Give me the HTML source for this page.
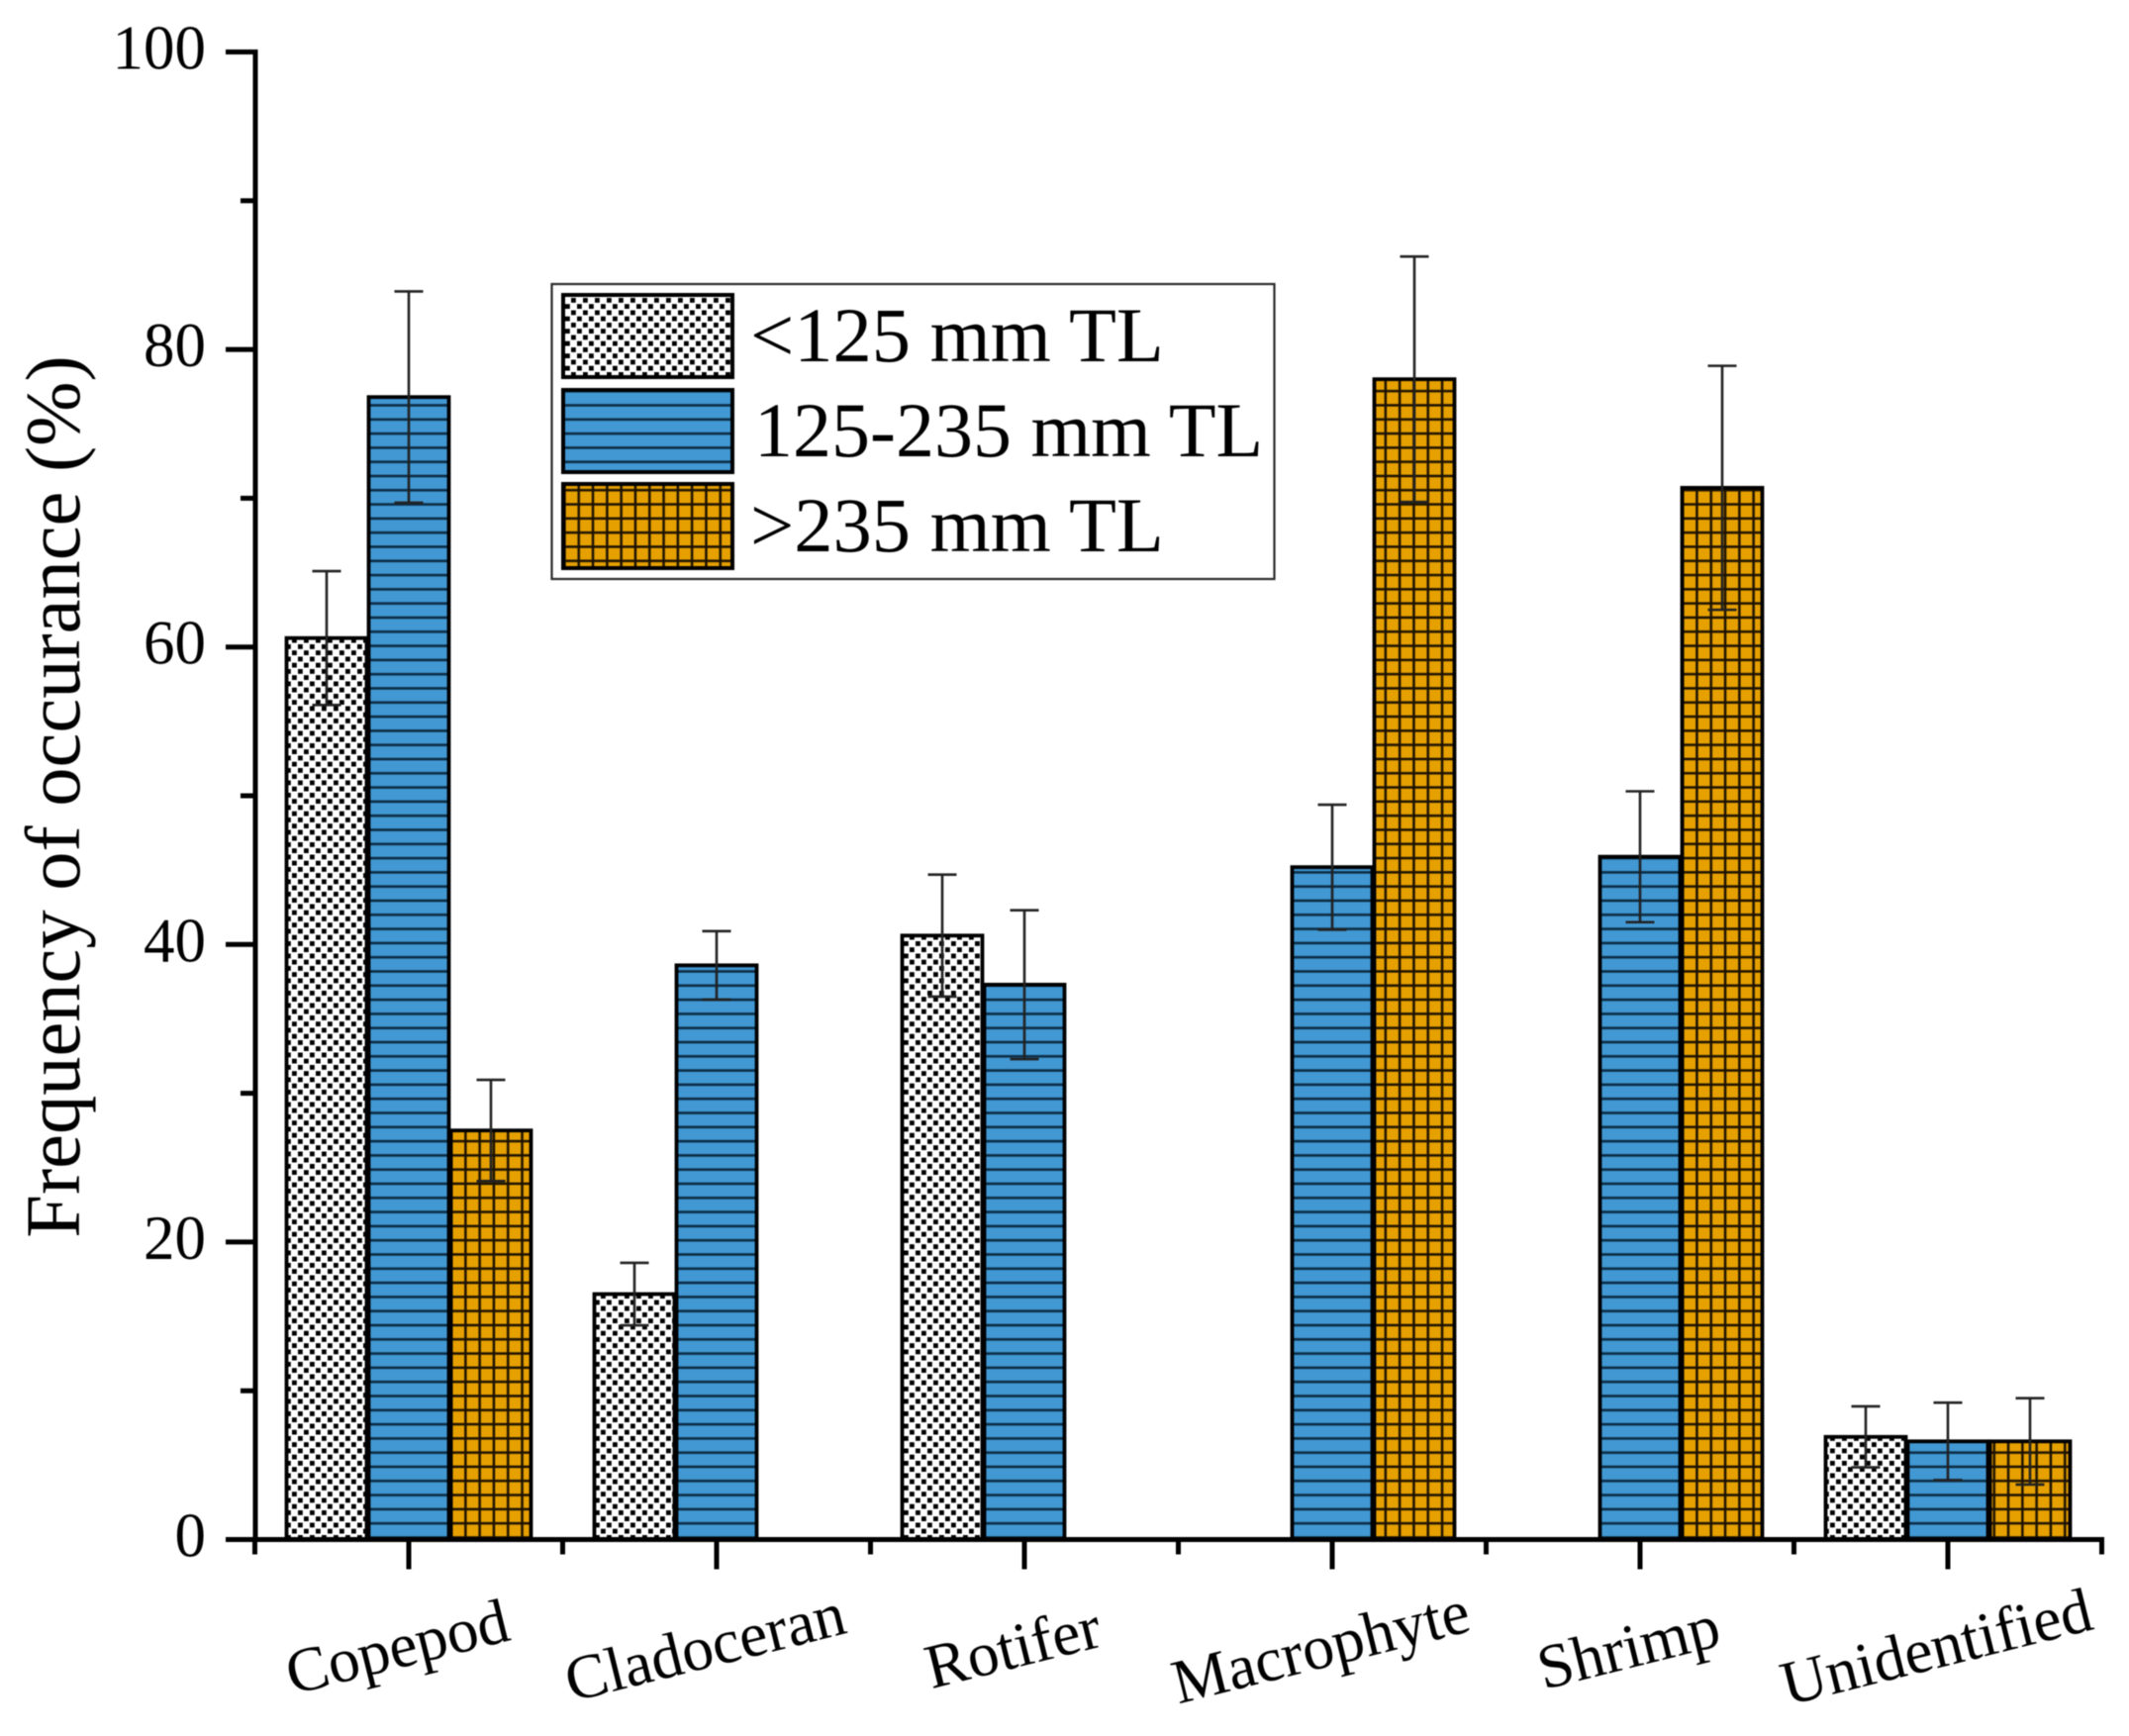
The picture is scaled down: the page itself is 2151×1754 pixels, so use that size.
<!DOCTYPE html>
<html lang="en">
<head>
<meta charset="utf-8">
<title>Frequency of occurance by size class</title>
<style>
  html, body { margin: 0; padding: 0; background: #fff; }
  svg { display: block; filter: blur(0.6px); }
  text { font-family: "Liberation Serif", "Times New Roman", serif; fill: #000; }
</style>
</head>
<body>
<svg id="chart" xmlns="http://www.w3.org/2000/svg" width="2151" height="1754" viewBox="0 0 2151 1754">
  <defs>
    <pattern id="pat-dots" patternUnits="userSpaceOnUse" width="12" height="12.5">
      <rect width="12" height="12.5" fill="#ffffff"/>
      <rect x="1" y="1" width="4.8" height="4.8" fill="#000"/>
      <rect x="7" y="7.2" width="4.8" height="4.8" fill="#000"/>
    </pattern>
    <pattern id="pat-hatch" patternUnits="userSpaceOnUse" width="14.3" height="14.3" y="1555">
      <rect width="14.3" height="14.3" fill="#4198d3"/>
      <rect x="0" y="11.5" width="14.3" height="2.6" fill="#0c2c44"/>
    </pattern>
    <pattern id="pat-grid" patternUnits="userSpaceOnUse" width="14.3" height="14.3" y="1555">
      <rect width="14.3" height="14.3" fill="#e6a000"/>
      <rect x="0" y="11.5" width="14.3" height="2.5" fill="#1c1200"/>
      <rect x="11.5" y="0" width="2.5" height="14.3" fill="#1c1200"/>
    </pattern>
  </defs>

  <rect x="0" y="0" width="2151" height="1754" fill="#ffffff"/>
  <g id="bars"></g>
  <g id="errors"></g>
  <g id="axes"></g>

  <text transform="translate(80,805) rotate(-90)" text-anchor="middle" font-size="78.5">Frequency of occurance (%)</text>

  <g>
    <rect x="557.5" y="287" width="730" height="298" fill="#ffffff" stroke="#2a2a2a" stroke-width="2.2"/>
    <rect x="569" y="298" width="171" height="83" fill="url(#pat-dots)" stroke="#000" stroke-width="4"/>
    <rect x="569" y="394" width="171" height="83" fill="url(#pat-hatch)" stroke="#000" stroke-width="4"/>
    <rect x="569" y="489" width="171" height="85" fill="url(#pat-grid)" stroke="#000" stroke-width="4"/>
    <text x="758" y="365" font-size="78.5">&lt;125 mm TL</text>
    <text x="762" y="461" font-size="78">125-235 mm TL</text>
    <text x="758" y="557" font-size="78.5">&gt;235 mm TL</text>
  </g>
</svg>

<script>
const categories = ["Copepod", "Cladoceran", "Rotifer", "Macrophyte", "Shrimp", "Unidentified"];
const seriesSmall = [60.6, 16.5, 40.6, null, null, 6.9];
const seriesMedium = [76.8, 38.6, 37.3, 45.2, 45.9, 6.6];
const seriesLarge = [27.5, null, null, 78.0, 70.7, 6.6];
const errorsSmall = [4.5, 2.1, 4.1, null, null, 2.05];
const errorsMedium = [7.1, 2.3, 5.0, 4.2, 4.4, 2.6];
const errorsLarge = [3.4, null, null, 8.25, 8.2, 2.9];
const yMajorTicks = [0, 20, 40, 60, 80, 100];
const yMinorTicks = [10, 30, 50, 70, 90];

const NS = "http://www.w3.org/2000/svg";
const Y0 = 1555.5, PX_PER_UNIT = 15.03, X0 = 413, CAT_STEP = 311, BAR_W = 83;
function yScale(v) { return Y0 - v * PX_PER_UNIT; }
function xScale(i) { return X0 + i * CAT_STEP; }
function barLeft(i, s) { return xScale(i) + (s - 1.5) * BAR_W; }
function make(tag, attrs, parent) {
  const el = document.createElementNS(NS, tag);
  for (const k in attrs) el.setAttribute(k, attrs[k]);
  parent.appendChild(el);
  return el;
}

const barsG = document.getElementById("bars");
const errG = document.getElementById("errors");
const axesG = document.getElementById("axes");
const allSeries = [seriesSmall, seriesMedium, seriesLarge];
const allErrors = [errorsSmall, errorsMedium, errorsLarge];
const fills = ["url(#pat-dots)", "url(#pat-hatch)", "url(#pat-grid)"];
const seriesKeys = ["small", "medium", "large"];

allSeries.forEach(function (series, s) {
  series.forEach(function (v, i) {
    if (v === null) return;
    const bar = make("rect", {
      x: barLeft(i, s) + 1,
      y: yScale(v),
      width: BAR_W - 2,
      height: Y0 - yScale(v),
      fill: fills[s],
      stroke: "#000",
      "stroke-width": 3.8
    }, barsG);
    
    
    bar.setAttribute('data-series', seriesKeys[s]);

    const e = allErrors[s][i];
    const cx = barLeft(i, s) + BAR_W / 2;
    const stem = make("line", {
      x1: cx, x2: cx, y1: yScale(v + e), y2: yScale(v - e),
      stroke: "#222", "stroke-width": 2.6
    }, errG);
    
    
    [v + e, v - e].forEach(function (end) {
      const cap = make("line", {
        x1: cx - 14.5, x2: cx + 14.5, y1: yScale(end), y2: yScale(end),
        stroke: "#222", "stroke-width": 2.6
      }, errG);
      
      
    });
  });
});

/* axes */
const yAxisLine = make("line", { x1: 258, x2: 258, y1: yScale(100) - 2.5, y2: Y0, stroke: "#000", "stroke-width": 5 }, axesG);


const xAxisLine = make("line", { x1: 228, x2: xScale(categories.length - 1) + CAT_STEP / 2 + 2.5, y1: Y0, y2: Y0, stroke: "#000", "stroke-width": 5 }, axesG);



yMajorTicks.forEach(function (t) {
  const tick = make("line", { x1: 228, x2: 258, y1: yScale(t), y2: yScale(t), stroke: "#000", "stroke-width": 5 }, axesG);
  
  
  const label = make("text", { x: 208, y: yScale(t) + 17, "text-anchor": "end", "font-size": 63 }, axesG);
  
  
  label.textContent = String(t);
});
yMinorTicks.forEach(function (t) {
  const tick = make("line", { x1: 243, x2: 258, y1: yScale(t), y2: yScale(t), stroke: "#000", "stroke-width": 5 }, axesG);
  
  
});

categories.forEach(function (name, i) {
  const tick = make("line", { x1: xScale(i), x2: xScale(i), y1: Y0, y2: Y0 + 30, stroke: "#000", "stroke-width": 5 }, axesG);
  
  
  const lx = xScale(i) - 11, ly = 1667;
  const label = make("text", {
    x: lx, y: ly + 18, "text-anchor": "middle", "font-size": 63.5,
    transform: "rotate(-14 " + lx + " " + ly + ")"
  }, axesG);
  
  
  label.textContent = name;
});
for (let i = 0; i <= categories.length; i++) {
  const mx = xScale(i) - CAT_STEP / 2;
  const tick = make("line", { x1: mx, x2: mx, y1: Y0, y2: Y0 + 15, stroke: "#000", "stroke-width": 5 }, axesG);
  
  
}
</script>
</body>
</html>
